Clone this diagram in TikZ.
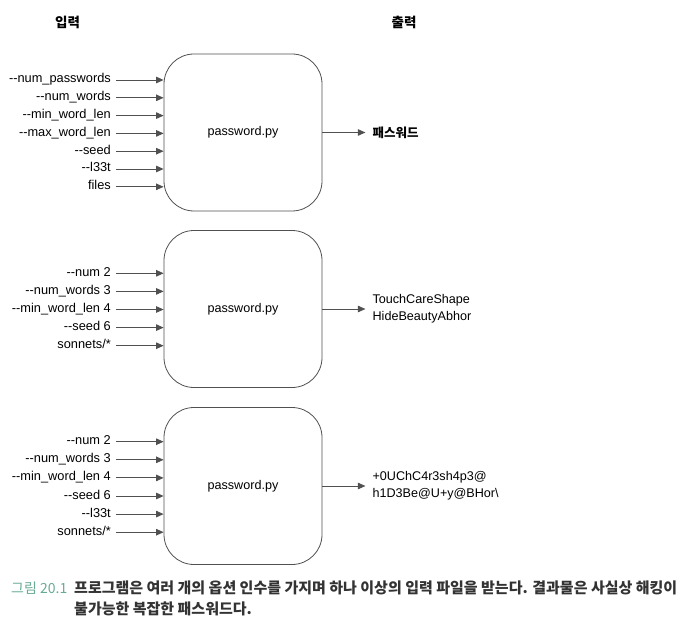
\documentclass[tikz,border=0pt]{standalone}
\usepackage{fontspec}
\usepackage{xcolor}
\usetikzlibrary{arrows.meta,positioning}

\newfontfamily\labelfont{Liberation Sans}[Ligatures=TeXOff]
\newfontfamily\kofont{Noto Sans CJK KR}

\definecolor{linegray}{RGB}{80,80,80}
\definecolor{capgreen}{RGB}{104,170,150}

\tikzset{
  prog/.style={draw=linegray, line width=.8pt, rounded corners=30pt,
    minimum width=158pt, minimum height=157pt,
    font=\labelfont\fontsize{12.6}{15}\selectfont},
  arg/.style={anchor=east, inner xsep=5pt, inner ysep=0pt,
    text height=9pt, text depth=3pt,
    font=\labelfont\fontsize{12.8}{15}\selectfont},
  res/.style={right=43pt of #1, inner xsep=7pt, align=left,
    font=\labelfont\fontsize{12.6}{17}\selectfont},
  feed/.style={draw=linegray, line width=.9pt,
    -{Triangle[length=7.5pt,width=6.5pt]}},
  head/.style={font=\kofont\bfseries\fontsize{13.5}{15}\selectfont},
  captext/.style={anchor=west, inner sep=0pt,
    font=\kofont\bfseries\fontsize{15}{17}\selectfont, text=black!80},
}

\begin{document}
\begin{tikzpicture}[x=1pt, y=-1pt]
  \useasboundingbox (0,0) rectangle (698,628);

  \node[head] (inhead) at (67.5, 22) {입력};
  \node[head] (outhead) at (404, 22) {출력};

  % first run: all options
  \node[prog] (prog1) at (243, 132.5) {password.py};
  \foreach \lbl [count=\i] in {--num\_passwords, --num\_words, --min\_word\_len,
      --max\_word\_len, --seed, --l33t, files} {
    \node[arg] (a1\i) at (116, {80+17.8*(\i-1)}) {\lbl};
    \draw[feed] (a1\i) -- (prog1.west |- a1\i);
  }
  \node[res=prog1, font=\kofont\bfseries\fontsize{12.5}{14}\selectfont] (out1) {패스워드};
  \draw[feed] (prog1.east) -- (out1);

  % second run
  \node[prog] (prog2) at (243, 309) {password.py};
  \foreach \lbl [count=\i] in {--num 2, --num\_words 3, --min\_word\_len 4,
      --seed 6, sonnets/*} {
    \node[arg] (a2\i) at (116, {273.3+18.1*(\i-1)}) {\lbl};
    \draw[feed] (a2\i) -- (prog2.west |- a2\i);
  }
  \node[res=prog2] (out2) {TouchCareShape\\HideBeautyAbhor};
  \draw[feed] (prog2.east) -- (out2);

  % third run: with --l33t
  \node[prog] (prog3) at (243, 486) {password.py};
  \foreach \lbl [count=\i] in {--num 2, --num\_words 3, --min\_word\_len 4,
      --seed 6, --l33t, sonnets/*} {
    \node[arg] (a3\i) at (116, {441.7+18.1*(\i-1)}) {\lbl};
    \draw[feed] (a3\i) -- (prog3.west |- a3\i);
  }
  \node[res=prog3] (out3) {+0UChC4r3sh4p3@\\h1D3Be@U+y@BHor\textbackslash};
  \draw[feed] (prog3.east) -- (out3);

  % caption
  \node[captext, font=\kofont\fontsize{14}{17}\selectfont, text=capgreen]
    (fignum) at (11, 588) {그림 20.1};
  \node[captext] (capA) at (74, 588)
    {프로그램은 여러 개의 옵션 인수를 가지며 하나 이상의 입력 파일을 받는다. 결과물은 사실상 해킹이};
  \node[captext] (capB) at (74, 609) {불가능한 복잡한 패스워드다.};
\end{tikzpicture}
\end{document}
